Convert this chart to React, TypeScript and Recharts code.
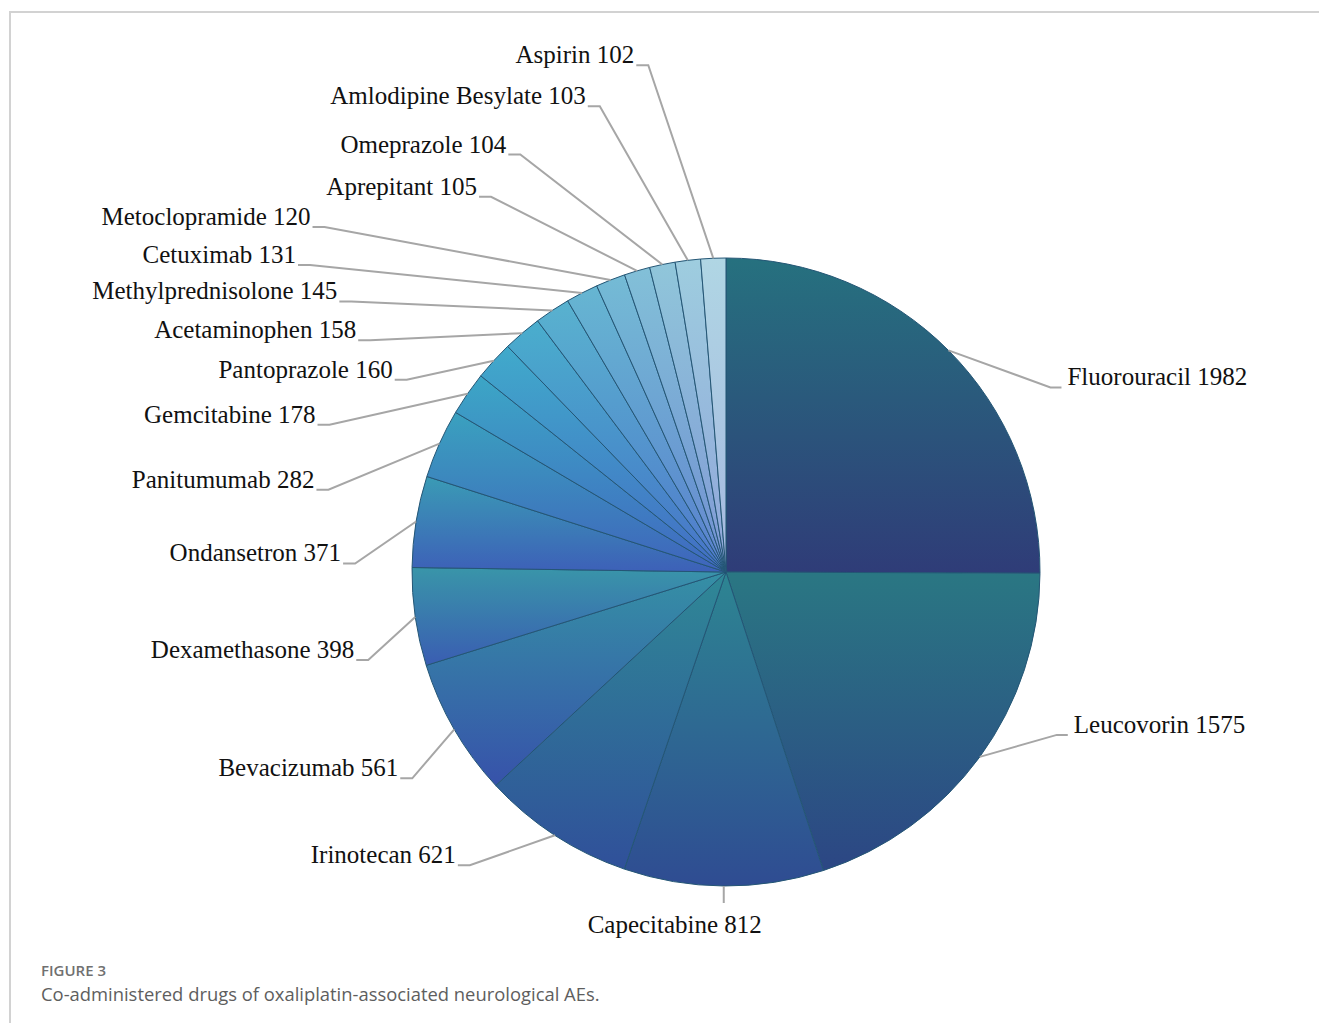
import React from "react";
import { PieChart, Pie, Cell } from "recharts";

const DRUGS = [
  "Fluorouracil", "Leucovorin", "Capecitabine", "Irinotecan", "Bevacizumab",
  "Dexamethasone", "Ondansetron", "Panitumumab", "Gemcitabine", "Pantoprazole",
  "Acetaminophen", "Methylprednisolone", "Cetuximab", "Metoclopramide",
  "Aprepitant", "Omeprazole", "Amlodipine Besylate", "Aspirin",
];
const COUNTS = [1982, 1575, 812, 621, 561, 398, 371, 282, 178, 160, 158, 145, 131, 120, 105, 104, 103, 102];

// gradient colours (top -> bottom of each slice)
const TOP_COLORS = [
  "#26717f", "#2a7783", "#2d8592", "#2f8896", "#3590a5", "#3995a9", "#3a9bb5", "#3aa1bf", "#3ca6c6",
  "#40aacb", "#4aaecd", "#58b2cf", "#66b6d2", "#74bbd5", "#82c0d8", "#90c6da", "#9ecddf", "#b0d6e4",
];
const BOTTOM_COLORS = [
  "#2f3c78", "#2c4684", "#2f4c92", "#30509a", "#3752aa", "#3a5db2", "#3d60b8", "#3f64bc", "#4068c0",
  "#436dc4", "#4873c8", "#5079cc", "#5a80ce", "#6587d0", "#7290d2", "#8099d6", "#8fa5da", "#a5b8e0",
];

// label elbow offsets relative to each slice's outer mid point
const LABEL_OFFSETS: [number, number][] = [
  [102, 37], [77, -22], [0, 17], [-85, 30], [-42, 49], [-47, 43], [-61, 42], [-111, 46], [-138, 31],
  [-87, 19], [-152, 7], [-201, -9], [-272, -28], [-286, -53], [-146, -74], [-142, -110], [-88, -154], [-65, -193],
];

const data = DRUGS.map((name, i) => ({ name, value: COUNTS[i] }));

const RAD = Math.PI / 180;
const LINE_COLOR = "#a6a6a6";
const SERIF = "'Liberation Serif', 'Times New Roman', serif";
const LABEL_SIZE = 25;

const renderLabel = (props: any) => {
  const { cx, cy, midAngle, outerRadius, index, name, value } = props;
  const ax = cx + outerRadius * Math.cos(-midAngle * RAD);
  const ay = cy + outerRadius * Math.sin(-midAngle * RAD);
  const [dx, dy] = LABEL_OFFSETS[index];
  const ex = ax + dx;
  const ey = ay + dy;
  const text = `${name} ${value}`;
  if (dx === 0) {
    return (
      <g key={`lbl-${index}`}>
        <path d={`M${ax},${ay}L${ex},${ey}`} stroke={LINE_COLOR} strokeWidth={2} fill="none" />
        <text x={ax - 49} y={ay + 47} textAnchor="middle" fontFamily={SERIF} fontSize={LABEL_SIZE} fill="#111">
          {text}
        </text>
      </g>
    );
  }
  const right = dx > 0;
  const hx = right ? ex + 11 : ex - 12;
  return (
    <g key={`lbl-${index}`}>
      <path d={`M${ax},${ay}L${ex},${ey}L${hx},${ey}`} stroke={LINE_COLOR} strokeWidth={2} fill="none" />
      <text
        x={right ? ex + 17 : ex - 14}
        y={ey - 2}
        textAnchor={right ? "start" : "end"}
        fontFamily={SERIF}
        fontSize={LABEL_SIZE}
        fill="#111"
      >
        {text}
      </text>
    </g>
  );
};

export default function App() {
  return (
    <div style={{ position: "absolute", left: 0, top: 0, width: 1319, height: 1023, background: "#fff", overflow: "hidden" }}>
      <div
        style={{
          position: "absolute",
          left: 9,
          top: 11,
          width: 1310,
          height: 1012,
          borderTop: "2px solid #d2d2d2",
          borderLeft: "2px solid #d2d2d2",
          boxSizing: "border-box",
        }}
      />
      <div style={{ position: "absolute", left: 0, top: 0 }}>
        <PieChart width={1319} height={950} margin={{ top: 0, right: 0, bottom: 0, left: 0 }}>
          <defs>
            {TOP_COLORS.map((c, i) => (
              <linearGradient key={i} id={`g${i}`} x1="0" y1="0" x2="0" y2="1">
                <stop offset="0%" stopColor={c} />
                <stop offset="100%" stopColor={BOTTOM_COLORS[i]} />
              </linearGradient>
            ))}
          </defs>
          <Pie
            data={data}
            dataKey="value"
            nameKey="name"
            cx={726}
            cy={572}
            outerRadius={314}
            innerRadius={0}
            startAngle={90}
            endAngle={-270}
            stroke="#245675"
            strokeWidth={1}
            isAnimationActive={false}
            labelLine={false}
            label={renderLabel}
          >
            {data.map((d, i) => (
              <Cell key={d.name} fill={`url(#g${i})`} />
            ))}
          </Pie>
        </PieChart>
      </div>
      <div
        style={{
          position: "absolute",
          left: 41,
          top: 962,
          fontFamily: "'Open Sans', sans-serif",
          fontSize: 15,
          fontWeight: 600,
          color: "#707070",
          lineHeight: "16px",
          whiteSpace: "nowrap",
        }}
      >
        FIGURE 3
      </div>
      <div
        style={{
          position: "absolute",
          left: 41,
          top: 983,
          fontFamily: "'Open Sans', sans-serif",
          fontSize: 18.4,
          fontWeight: 400,
          color: "#5e5e5e",
          lineHeight: "22px",
          whiteSpace: "nowrap",
        }}
      >
        Co-administered drugs of oxaliplatin-associated neurological AEs.
      </div>
    </div>
  );
}
